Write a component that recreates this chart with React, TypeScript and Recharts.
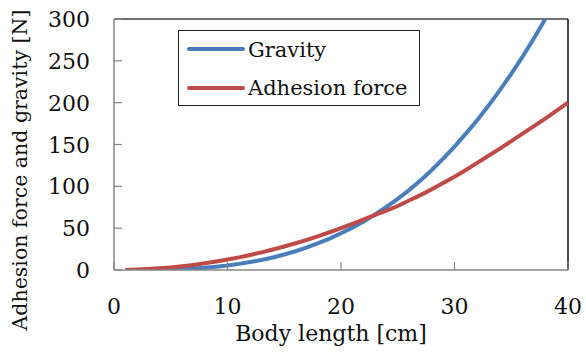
import React from 'react';
import { LineChart, Line, XAxis, YAxis, ReferenceLine, Legend, Label } from 'recharts';

// body length [cm]
const LENGTHS = [
  1, 2, 3, 4, 5, 6, 7, 8, 9, 10, 11, 12, 13, 14, 15, 16, 17, 18, 19, 20,
  21, 22, 23, 24, 25, 26, 27, 28, 29, 30, 31, 32, 33, 34, 35, 36, 37, 38, 39, 40,
];

// gravity [N] (leaves the plot at ~38 cm)
const GRAVITY = [
  0, 0, 0.2, 0.4, 0.7, 1.2, 1.9, 2.8, 4, 5.5, 7.3, 9.5, 12, 15, 18.5, 22.4, 27, 32, 37.5, 44,
  50.5, 58, 66.5, 75.5, 85, 95.5, 107, 119.5, 133, 147.5, 163, 179, 196.5, 215, 234.5, 255, 277, 300,
];

// adhesion force [N]
const ADHESION = [
  0.1, 0.5, 1.1, 2, 3.1, 4.5, 6.1, 8, 10.1, 12.5, 15.1, 18, 21.1, 24.5, 28.1, 32, 36.1, 40.5, 45.1, 50,
  55.1, 60.5, 66, 71, 76.5, 83, 89.5, 96.5, 104, 111.5, 119.5, 128, 136.5, 145, 154, 163, 172, 181, 190.5, 200,
];

const X_TICKS = [0, 10, 20, 30, 40];
const Y_TICKS = [0, 50, 100, 150, 200, 250, 300];

const SERIES = [
  { key: 'gravity', label: 'Gravity', color: '#4A7EBB' },
  { key: 'adhesion', label: 'Adhesion force', color: '#BE4B48' },
];

const data = LENGTHS.map((len, i) => ({
  len,
  gravity: i < GRAVITY.length ? GRAVITY[i] : null,
  adhesion: ADHESION[i],
}));

const FONT = "'DejaVu Serif', serif";
const AXIS_GREY = '#868686';

const YTick = (props: any) => {
  const { x, y, payload } = props;
  return (
    <g>
      <line x1={x + 24} x2={x + 32} y1={y} y2={y} stroke={AXIS_GREY} strokeWidth={1.2} />
      <text x={x} y={y + 8} textAnchor="end" fontFamily={FONT} fontSize={22} fill="#111">
        {payload.value}
      </text>
    </g>
  );
};

const XTick = (props: any) => {
  const { x, y, payload } = props;
  return (
    <g>
      <line x1={x} x2={x} y1={y} y2={y - 8} stroke={AXIS_GREY} strokeWidth={1.2} />
      <text x={x} y={y + 44} textAnchor="middle" fontFamily={FONT} fontSize={22} fill="#111">
        {payload.value}
      </text>
    </g>
  );
};

const LegendBox = () => (
  <div style={{ width: 242, height: 76, border: '1.5px solid #222', boxSizing: 'border-box', background: '#fff' }}>
    <svg width={240} height={74} style={{ display: 'block' }}>
      {SERIES.map((s, i) => (
        <g key={`leg-${s.key}`}>
          <line x1={10} x2={64} y1={18 + i * 39} y2={18 + i * 39} stroke={s.color} strokeWidth={4} strokeLinecap="round" />
          <text x={69} y={26 + i * 38} fontFamily={FONT} fontSize={21} fill="#111">
            {s.label}
          </text>
        </g>
      ))}
    </svg>
  </div>
);

export default function App() {
  return (
    <div style={{ position: 'absolute', left: 0, top: 0, background: '#fff' }}>
      <LineChart width={586} height={356} data={data} margin={{ top: 19, right: 18, left: 0, bottom: 0 }}>
        <XAxis
          dataKey="len"
          type="number"
          domain={[0, 40]}
          ticks={X_TICKS}
          height={86}
          tickSize={0}
          tickMargin={0}
          tickLine={false}
          axisLine={{ stroke: AXIS_GREY, strokeWidth: 1.5 }}
          tick={<XTick />}
        >
          <Label
            content={() => (
              <text x={331} y={341} textAnchor="middle" fontFamily={FONT} fontSize={22} fill="#111">
                Body length [cm]
              </text>
            )}
          />
        </XAxis>
        <YAxis
          type="number"
          domain={[0, 300]}
          ticks={Y_TICKS}
          width={114}
          tickSize={0}
          tickMargin={24}
          tickLine={false}
          allowDataOverflow
          axisLine={{ stroke: AXIS_GREY, strokeWidth: 1.5 }}
          tick={<YTick />}
        >
          <Label
            content={() => (
              <text
                x={27}
                y={170}
                transform="rotate(-90, 27, 170)"
                textAnchor="middle"
                fontFamily={FONT}
                fontSize={20.5}
                fill="#111"
              >
                Adhesion force and gravity [N]
              </text>
            )}
          />
        </YAxis>
        <ReferenceLine y={300} stroke="#404040" strokeWidth={1.5} />
        <ReferenceLine x={40} stroke="#111" strokeWidth={1.5} />
        <Legend
          layout="vertical"
          align="center"
          verticalAlign="middle"
          wrapperStyle={{ left: 178, top: 30, width: 242, height: 76 }}
          content={<LegendBox />}
        />
        {SERIES.map((s) => (
          <Line
            key={`line-${s.key}`}
            type="linear"
            dataKey={s.key}
            stroke={s.color}
            strokeWidth={4}
            dot={false}
            connectNulls={false}
            isAnimationActive={false}
          />
        ))}
      </LineChart>
    </div>
  );
}
